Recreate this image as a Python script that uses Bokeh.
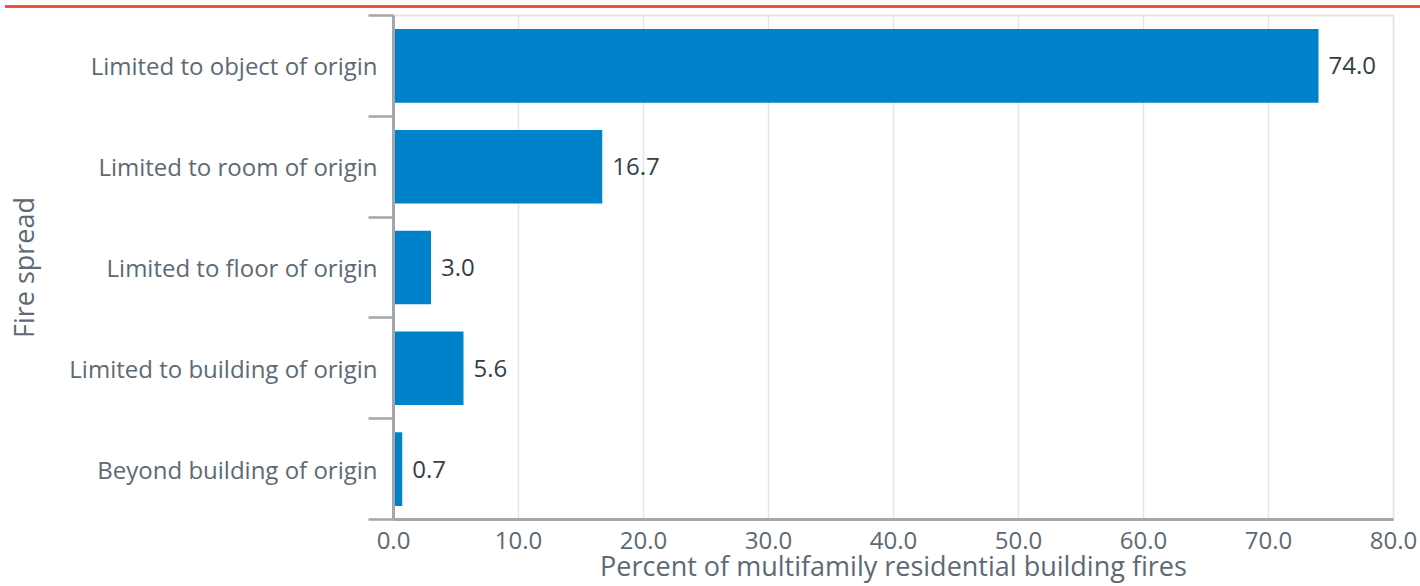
from bokeh.plotting import figure
from bokeh.models import Range1d, FixedTicker, Div, PrintfTickFormatter
from bokeh.core.properties import value
from bokeh.embed import file_html
from bokeh.resources import INLINE

categories = ["Limited to object of origin", "Limited to room of origin",
              "Limited to floor of origin", "Limited to building of origin",
              "Beyond building of origin"]
percents = [74.0, 16.7, 3.0, 5.6, 0.7]
x_ticks = [0, 10, 20, 30, 40, 50, 60, 70, 80]
x_title = "Percent of multifamily residential building fires"
y_title = "Fire spread"

FONT = "Open Sans"
LABEL_COL = "#5d6975"
VALUE_COL = "#333e48"
AXIS_COL = "#a3a7ab"
GRID_COL = "#e3e6e9"
BAR_COL = "#0082ca"

n = len(categories)
ypos = [n - 1 - i for i in range(n)]
bounds = [k - 0.5 for k in range(n + 1)]

p = figure(width=1418, height=586, output_backend="svg", toolbar_location=None,
           x_range=Range1d(0, 80), y_range=Range1d(-0.5, n - 0.5),
           min_border_left=393, min_border_right=25, min_border_top=15,
           min_border_bottom=57)

p.hbar(y=ypos, left=0, right=percents, height=0.73, color=BAR_COL, line_color=None)
p.text(x=percents, y=ypos, text=[f"{v:.1f}" for v in percents], x_offset=10,
       text_align="left", text_baseline="middle", text_font=value(FONT),
       text_font_size="24px", text_color=VALUE_COL)

p.outline_line_color = GRID_COL
p.outline_line_width = 2
p.ygrid.grid_line_color = None
p.xgrid.grid_line_color = GRID_COL
p.xgrid.grid_line_width = 1.5

xa = p.xaxis[0]
xa.ticker = FixedTicker(ticks=x_ticks)
xa.formatter = PrintfTickFormatter(format="%.1f")
xa.axis_label = x_title
ya = p.yaxis[0]
ya.ticker = FixedTicker(ticks=ypos, minor_ticks=bounds)
ya.major_label_overrides = {y: c for y, c in zip(ypos, categories)}
ya.axis_label = y_title

for ax in (xa, ya):
    ax.axis_line_color = AXIS_COL
    ax.axis_line_width = 3
    ax.major_tick_out = 0
    ax.major_tick_in = 0
    ax.major_label_text_font = FONT
    ax.major_label_text_font_size = "24px"
    ax.major_label_text_color = LABEL_COL
    ax.axis_label_text_font = FONT
    ax.axis_label_text_font_size = "27px"
    ax.axis_label_text_font_style = "normal"
    ax.axis_label_text_color = LABEL_COL

xa.minor_tick_line_color = None
xa.major_label_standoff = 12
xa.axis_label_standoff = -5
ya.minor_tick_out = 25
ya.minor_tick_in = 0
ya.minor_tick_line_color = AXIS_COL
ya.minor_tick_line_width = 2.5
ya.major_label_standoff = -9
ya.axis_label_standoff = 24

bar = Div(width=1420, height=3,
          styles={"position": "fixed", "top": "0px", "left": "0px",
                  "width": "1420px", "height": "3px",
                  "background-color": "#f24e3a", "z-index": "10"})

open("out.html", "w").write(file_html([bar, p], INLINE))
